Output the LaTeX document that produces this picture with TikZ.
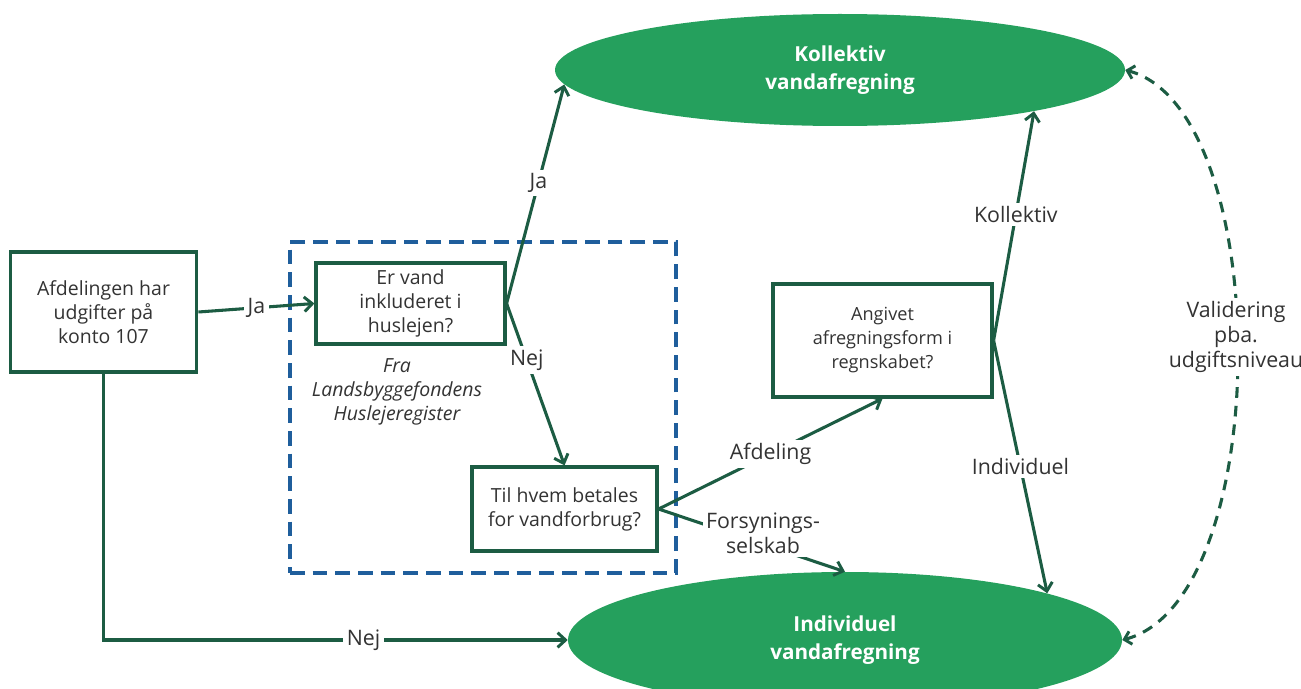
\documentclass[tikz,border=0pt]{standalone}
\usepackage{fontspec}
\setmainfont{Open Sans}
\usetikzlibrary{arrows.meta,shapes.geometric}
\definecolor{ellg}{HTML}{25A05D}
\definecolor{dg}{HTML}{1C5C43}
\definecolor{db}{HTML}{1F5E9C}
\definecolor{txt}{HTML}{333333}
\begin{document}
\begin{tikzpicture}[x=0.75pt,y=-0.75pt,
  box/.style={draw=dg,line width=2.4pt,fill=white,align=center,inner sep=0pt,font=\fontsize{14.6}{18}\selectfont,text=txt},
  ell/.style={ellipse,fill=ellg,inner sep=0pt,text=white,font=\fontsize{15.5}{20.5}\selectfont\bfseries,align=center},
  conn/.style={draw=dg,line width=2.3pt,-{Straight Barb[length=6pt,width=11pt,line width=2.2pt]}},
  dconn/.style={draw=dg,line width=2.3pt,dash pattern=on 8pt off 6pt,{Straight Barb[length=5pt,width=10pt,line width=2.2pt]}-{Straight Barb[length=5pt,width=10pt,line width=2.2pt]}},
  lab/.style={fill=white,inner sep=2.5pt,font=\fontsize{16}{19}\selectfont,text=txt,align=center},
  region/.style={draw=db,line width=2.4pt,dash pattern=on 11pt off 6pt,inner sep=0pt}
]
\useasboundingbox (0,0) rectangle (1301,688);
\clip (0,0) rectangle (1301,688);
\fill[white] (0,0) rectangle (1301,688);

\node[region,minimum width=289.5pt,minimum height=248.25pt] (reg) at (483,407.5) {};

\node[box,minimum width=140pt,minimum height=90pt] (b1) at (103.5,312) {Afdelingen har\\udgifter på\\konto 107};
\node[box,minimum width=141.75pt,minimum height=60.75pt] (b2) at (410.5,303.5) {Er vand\\inkluderet i\\huslejen?};
\node[box,minimum width=138.75pt,minimum height=63pt] (b3) at (564.5,509) {Til hvem betales\\for vandforbrug?};
\node[box,minimum width=164.25pt,minimum height=84.75pt,font=\fontsize{13.6}{18}\selectfont] (b4) at (882.5,340.5) {Angivet\\afregningsform i\\regnskabet?};
\node[font=\fontsize{14.6}{18}\selectfont\itshape,text=txt,align=center] (src) at (397,392) {Fra\\Landsbyggefondens\\Huslejeregister};

\node[ell,minimum width=427.5pt,minimum height=84pt] (top) at (840,70) {Kollektiv\\vandafregning};
\node[ell,minimum width=415.5pt,minimum height=102pt] (bot) at (845,640) {Individuel\\vandafregning};

\draw[conn] (b1.east) -- node[lab]{Ja} (b2.west);
\draw[conn] (b2.east) -- node[lab,pos=0.55]{Ja} (top.183);
\draw[conn] (b2.east) -- node[lab,pos=0.35]{Nej} (b3.north);
\draw[conn] (b3.east) -- node[lab,pos=0.5]{Afdeling} (b4.south);
\draw[conn] (b3.east) -- node[lab,pos=0.56,yshift=8pt]{Forsynings-\\selskab} (bot.north);
\draw[conn] (b4.east) -- node[lab,pos=0.55]{Kollektiv} (top.-12);
\draw[conn] (b4.east) -- node[lab,pos=0.5]{Individuel} (bot.13.5);
\draw[conn] (b1.south) |- node[lab,pos=0.78]{Nej} (bot.west);

\draw[dconn] (bot.east) .. controls (1275,600) and (1275,110) .. (top.east);
\node[lab] (val) at (1236,337) {Validering\\pba.\\udgiftsniveau};
\end{tikzpicture}
\end{document}
